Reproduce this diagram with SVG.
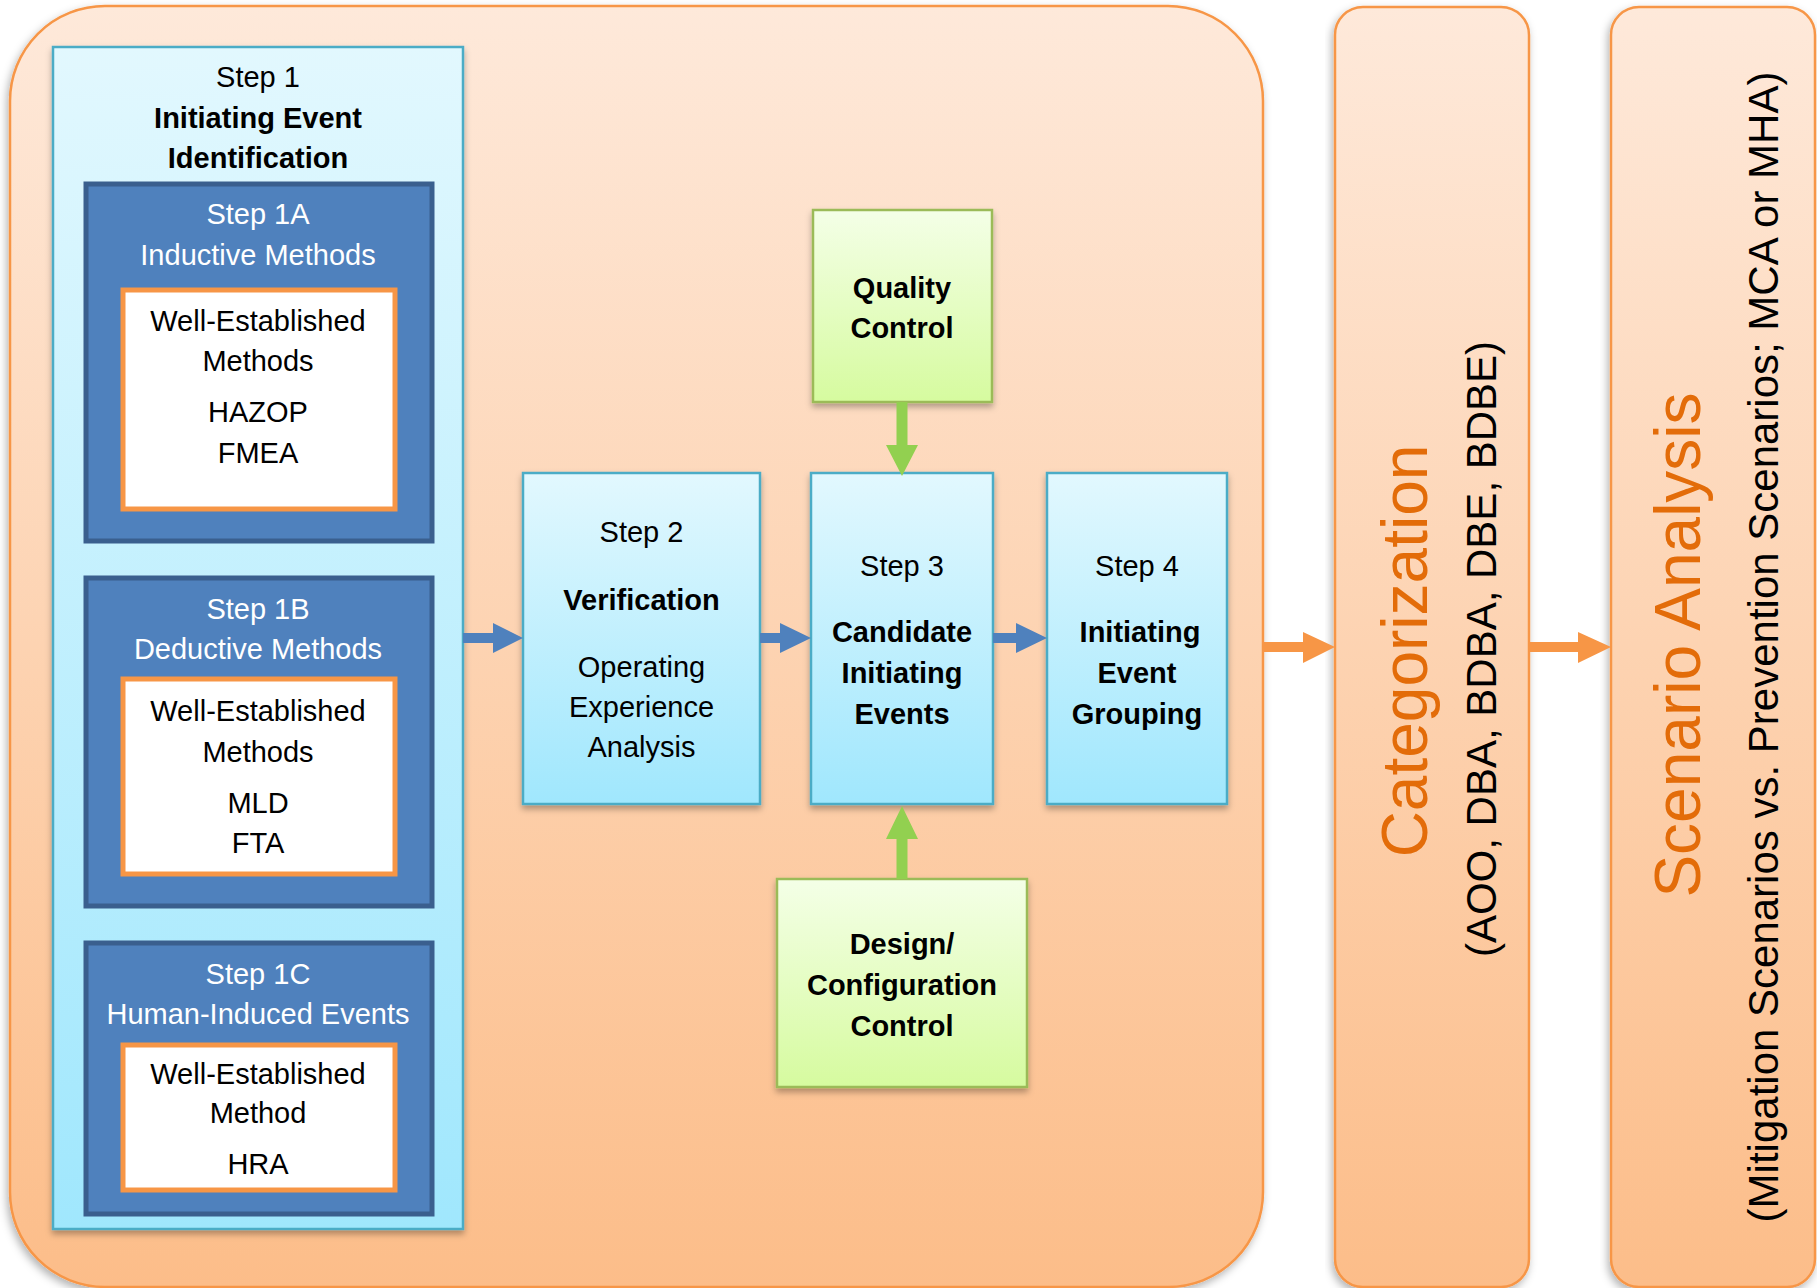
<svg xmlns="http://www.w3.org/2000/svg" width="1817" height="1288" viewBox="0 0 1817 1288">
<defs>
<linearGradient id="peach" x1="0" y1="0" x2="0" y2="1"><stop offset="0" stop-color="#FEE9DA"/><stop offset="1" stop-color="#FCBD89"/></linearGradient>
<linearGradient id="cyan" x1="0" y1="0" x2="0" y2="1"><stop offset="0" stop-color="#E2F8FE"/><stop offset="1" stop-color="#A0E7FD"/></linearGradient>
<linearGradient id="green" x1="0" y1="0" x2="0" y2="1"><stop offset="0" stop-color="#F4FFE7"/><stop offset="1" stop-color="#D6FB9F"/></linearGradient>
<filter id="sh" x="-10%" y="-10%" width="120%" height="120%"><feDropShadow dx="0" dy="4" stdDeviation="3" flood-color="#000" flood-opacity="0.3"/></filter>
<filter id="shb" x="-5%" y="-5%" width="110%" height="110%"><feDropShadow dx="-2" dy="4" stdDeviation="4" flood-color="#000" flood-opacity="0.3"/></filter>
</defs>
<style>
text{font-family:"Liberation Sans",Arial,sans-serif;font-size:29px;text-anchor:middle;fill:#000}
.b{font-weight:bold}
.w{fill:#FFFFFF}
.big{font-size:64px;fill:#E36C09}
.sub{font-size:42px}
.peach{fill:url(#peach);stroke:#F79646;stroke-width:2.5}
.cyan{fill:url(#cyan);stroke:#4BACC6;stroke-width:2.5}
.green{fill:url(#green);stroke:#9BBB59;stroke-width:2.5}
.dark{fill:#4F81BD;stroke:#3A5F8E;stroke-width:5}
.white{fill:#FFFFFF;stroke:#F79646;stroke-width:5}
.ab{fill:#4F81BD}
.ag{fill:#92D050}
.ao{fill:#F79646}
</style>
<rect width="1817" height="1288" fill="#FFFFFF"/>
<g id="main-panel">
<rect class="peach" x="10" y="6" width="1253" height="1281" rx="95" ry="95" filter="url(#shb)"/>
</g>
<g id="categorization">
<rect class="peach" x="1335" y="7" width="194" height="1280" rx="28" ry="28" filter="url(#shb)"/>
<text class="big" transform="translate(1427,651) rotate(-90)">Categorization</text>
<text class="sub" transform="translate(1496,649) rotate(-90)">(AOO, DBA, BDBA, DBE, BDBE)</text>
</g>
<g id="scenario-analysis">
<rect class="peach" x="1611" y="7" width="204" height="1280" rx="28" ry="28" filter="url(#shb)"/>
<text class="big" transform="translate(1700,645) rotate(-90)">Scenario Analysis</text>
<text class="sub" transform="translate(1778,647) rotate(-90)">(Mitigation Scenarios vs. Prevention Scenarios; MCA or MHA)</text>
</g>
<g id="step1">
<rect class="cyan" x="53" y="47" width="410" height="1182" filter="url(#sh)"/>
<text x="258" y="87">Step 1</text>
<text class="b" x="258" y="128">Initiating Event</text>
<text class="b" x="258" y="168">Identification</text>
</g>
<g id="step1a">
<rect class="dark" x="86" y="184" width="346" height="357"/>
<text class="w" x="258" y="224">Step 1A</text>
<text class="w" x="258" y="265">Inductive Methods</text>
<rect class="white" x="123" y="290" width="272" height="219"/>
<text x="258" y="331">Well-Established</text>
<text x="258" y="371">Methods</text>
<text x="258" y="422">HAZOP</text>
<text x="258" y="463">FMEA</text>
</g>
<g id="step1b">
<rect class="dark" x="86" y="578" width="346" height="328"/>
<text class="w" x="258" y="619">Step 1B</text>
<text class="w" x="258" y="659">Deductive Methods</text>
<rect class="white" x="123" y="679" width="272" height="195"/>
<text x="258" y="721">Well-Established</text>
<text x="258" y="762">Methods</text>
<text x="258" y="813">MLD</text>
<text x="258" y="853">FTA</text>
</g>
<g id="step1c">
<rect class="dark" x="86" y="943" width="346" height="271"/>
<text class="w" x="258" y="984">Step 1C</text>
<text class="w" x="258" y="1024">Human-Induced Events</text>
<rect class="white" x="123" y="1045" width="272" height="145"/>
<text x="258" y="1084">Well-Established</text>
<text x="258" y="1123">Method</text>
<text x="258" y="1174">HRA</text>
</g>
<g id="step2">
<rect class="cyan" x="523" y="473" width="237" height="331" filter="url(#sh)"/>
<text x="641.5" y="542">Step 2</text>
<text class="b" x="641.5" y="610">Verification</text>
<text x="641.5" y="677">Operating</text>
<text x="641.5" y="717">Experience</text>
<text x="641.5" y="757">Analysis</text>
</g>
<g id="step3">
<rect class="cyan" x="811" y="473" width="182" height="331" filter="url(#sh)"/>
<text x="902" y="576">Step 3</text>
<text class="b" x="902" y="642">Candidate</text>
<text class="b" x="902" y="683">Initiating</text>
<text class="b" x="902" y="724">Events</text>
</g>
<g id="step4">
<rect class="cyan" x="1047" y="473" width="180" height="331" filter="url(#sh)"/>
<text x="1137" y="576">Step 4</text>
<text class="b" x="1140" y="642">Initiating</text>
<text class="b" x="1137" y="683">Event</text>
<text class="b" x="1137" y="724">Grouping</text>
</g>
<g id="quality-control">
<rect class="green" x="813" y="210" width="179" height="192" filter="url(#sh)"/>
<text class="b" x="902" y="298">Quality</text>
<text class="b" x="902" y="338">Control</text>
</g>
<g id="design-configuration-control">
<rect class="green" x="777" y="879" width="250" height="208" filter="url(#sh)"/>
<text class="b" x="902" y="954">Design/</text>
<text class="b" x="902" y="995">Configuration</text>
<text class="b" x="902" y="1036">Control</text>
</g>
<g id="connectors">
<polygon class="ab" points="463,633 493,633 493,623 523,638 493,653 493,643 463,643"/>
<polygon class="ab" points="760,633 780,633 780,623 811,638 780,653 780,643 760,643"/>
<polygon class="ab" points="993,633 1016,633 1016,623 1047,638 1016,653 1016,643 993,643"/>
<polygon class="ag" points="896.5,402 907.5,402 907.5,445 918,445 902,476 886,445 896.5,445"/>
<polygon class="ag" points="896.5,879 907.5,879 907.5,839 918,839 902,806 886,839 896.5,839"/>
<polygon class="ao" points="1263,642 1303,642 1303,632 1335,647 1303,663 1303,652 1263,652"/>
<polygon class="ao" points="1529,642 1578,642 1578,632 1611,647 1578,663 1578,652 1529,652"/>
</g>
</svg>
